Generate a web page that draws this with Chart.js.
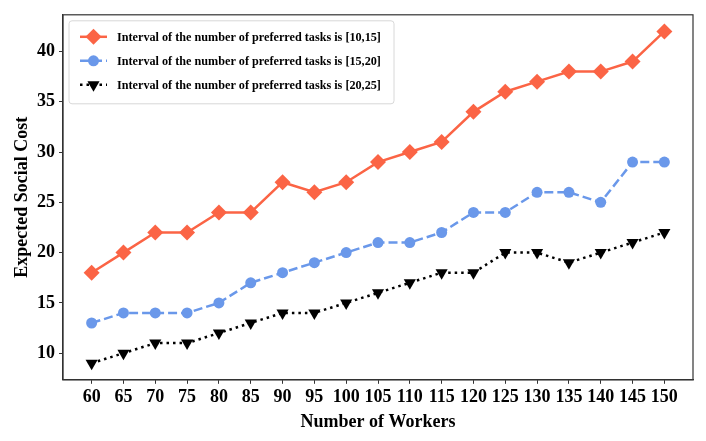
<!DOCTYPE html>
<html>
<head>
<meta charset="utf-8">
<script src="https://cdn.jsdelivr.net/npm/chart.js@4/dist/chart.umd.min.js"></script>
<style>
  html, body { margin: 0; padding: 0; background: #fff; }
  #wrap { width: 706px; height: 441px; }
</style>
</head>
<body>
<div id="wrap"><canvas id="costChart"></canvas></div>
<script>
// workers on x axis
const workers = [60, 65, 70, 75, 80, 85, 90, 95, 100, 105, 110, 115, 120, 125, 130, 135, 140, 145, 150];
const cost10to15 = [18, 20, 22, 22, 24, 24, 27, 26, 27, 29, 30, 31, 34, 36, 37, 38, 38, 39, 42];
const cost15to20 = [13, 14, 14, 14, 15, 17, 18, 19, 20, 21, 21, 22, 24, 24, 26, 26, 25, 29, 29];
const cost20to25 = [9, 10, 11, 11, 12, 13, 14, 14, 15, 16, 17, 18, 18, 20, 20, 19, 20, 21, 22];
const yTicks = [10, 15, 20, 25, 30, 35, 40];
const seriesNames = [
  "Interval of the number of preferred tasks is [10,15]",
  "Interval of the number of preferred tasks is [15,20]",
  "Interval of the number of preferred tasks is [20,25]"
];

const FONT = "'Liberation Serif', 'Times New Roman', serif";
const RED = "#fb6445";
const BLUE = "#6a98ea";

const toPoints = (arr) => arr.map((v, i) => ({ x: workers[i], y: v }));

// frame + boxed legend like matplotlib
const framePlugin = {
  id: "frame",
  afterDraw(chart) {
    const { ctx, chartArea: a } = chart;
    ctx.save();
    ctx.strokeStyle = "#333";
    ctx.lineWidth = 1.2;
    ctx.strokeRect(a.left, a.top, a.right - a.left, a.bottom - a.top);

    // legend
    const bx = a.left + 6, by = a.top + 6, bw = 325, bh = 83;
    ctx.fillStyle = "rgba(255,255,255,0.85)";
    ctx.strokeStyle = "#d8d8d8";
    ctx.lineWidth = 1;
    ctx.beginPath();
    ctx.roundRect(bx, by, bw, bh, 3);
    ctx.fill();
    ctx.stroke();

    ctx.font = "bold 12.2px " + FONT;
    ctx.textBaseline = "middle";
    chart.data.datasets.forEach((ds, i) => {
      const y = by + 16 + i * 24;
      const x0 = bx + 11, x1 = bx + 38, xm = (x0 + x1) / 2;
      ctx.strokeStyle = ds.borderColor;
      ctx.lineWidth = ds.borderWidth;
      ctx.setLineDash(ds.borderDash || []);
      ctx.beginPath();
      ctx.moveTo(x0, y);
      ctx.lineTo(x1, y);
      ctx.stroke();
      ctx.setLineDash([]);
      ctx.fillStyle = ds.backgroundColor;
      ctx.strokeStyle = ds.backgroundColor;
      Chart.helpers.drawPoint(ctx, {
        pointStyle: ds.pointStyle,
        rotation: ds.pointRotation || 0,
        radius: ds.pointRadius,
        borderWidth: 0
      }, xm, y);
      ctx.fillStyle = "#000";
      ctx.fillText(ds.label, bx + 48, y + 1);
    });

    // y axis title
    ctx.translate(21, (a.top + a.bottom) / 2);
    ctx.rotate(-Math.PI / 2);
    ctx.font = "bold 18px " + FONT;
    ctx.textAlign = "center";
    ctx.fillStyle = "#000";
    ctx.fillText("Expected Social Cost", 0, 1);
    ctx.restore();
  }
};

new Chart(document.getElementById("costChart"), {
  type: "line",
  data: {
    datasets: [
      {
        label: seriesNames[0],
        data: toPoints(cost10to15),
        borderColor: RED,
        backgroundColor: RED,
        borderWidth: 2.5,
        pointStyle: "rectRot",
        pointRadius: 8,
        pointBorderWidth: 0
      },
      {
        label: seriesNames[1],
        data: toPoints(cost15to20),
        borderColor: BLUE,
        backgroundColor: BLUE,
        borderWidth: 2.5,
        borderDash: [9, 4],
        pointStyle: "circle",
        pointRadius: 5.5,
        pointBorderWidth: 0
      },
      {
        label: seriesNames[2],
        data: toPoints(cost20to25),
        borderColor: "#000",
        backgroundColor: "#000",
        borderWidth: 2.5,
        borderDash: [2.5, 4],
        pointStyle: "triangle",
        pointRotation: 180,
        pointRadius: 7,
        pointBorderWidth: 0
      }
    ]
  },
  options: {
    responsive: true,
    maintainAspectRatio: false,
    animation: false,
    layout: { padding: { top: 12, right: 13, left: 33, bottom: 8 } },
    plugins: {
      legend: { display: false },
      tooltip: { enabled: false }
    },
    scales: {
      x: {
        type: "linear",
        min: 55.5,
        max: 154.5,
        afterBuildTicks: (axis) => { axis.ticks = workers.map((v) => ({ value: v })); },
        grid: { display: true, drawOnChartArea: false, drawTicks: true, tickLength: 4, color: "#333" },
        border: { display: true, color: "#333", width: 1.2 },
        ticks: {
          color: "#000",
          maxRotation: 0,
          autoSkip: false,
          padding: 3,
          font: { family: FONT, size: 18, weight: "bold" }
        },
        title: {
          display: true,
          text: "Number of Workers",
          color: "#000",
          padding: { top: 0, bottom: 0 },
          font: { family: FONT, size: 18, weight: "bold" }
        }
      },
      y: {
        min: 7.35,
        max: 43.65,
        afterBuildTicks: (axis) => { axis.ticks = yTicks.map((v) => ({ value: v })); },
        grid: { display: true, drawOnChartArea: false, drawTicks: true, tickLength: 4, color: "#333" },
        border: { display: true, color: "#333", width: 1.2 },
        ticks: {
          color: "#000",
          padding: 4,
          font: { family: FONT, size: 18, weight: "bold" }
        },
        title: { display: false }
      }
    }
  },
  plugins: [framePlugin]
});
</script>
</body>
</html>
